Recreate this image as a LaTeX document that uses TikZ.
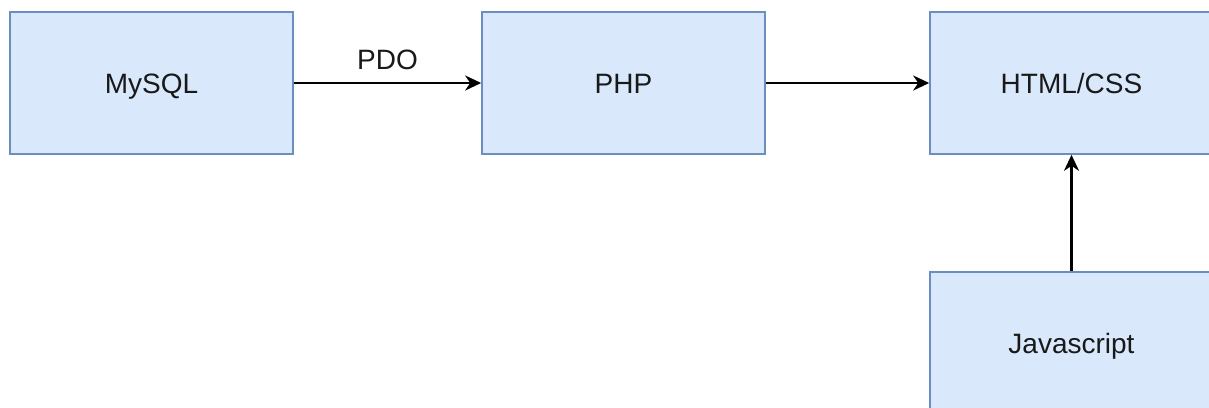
\documentclass[tikz,border=0pt]{standalone}
\usepackage{fontspec}
\setmainfont{Liberation Sans}
\usetikzlibrary{arrows.meta}
\definecolor{boxfill}{HTML}{DAE8FC}
\definecolor{boxline}{HTML}{6C8EBF}
\begin{document}
\begin{tikzpicture}[x=1pt,y=-1pt,
  blockbox/.style={draw=boxline,fill=boxfill,line width=1.6pt,minimum width=283pt,minimum height=142pt,inner sep=0pt,text height=20pt,text depth=0pt,font=\fontsize{28}{34}\selectfont,text=black!90},
  conn/.style={line width=2.4pt,-{Stealth[length=16pt,width=15pt,inset=5pt]}},
  lbl/.style={font=\fontsize{28}{34}\selectfont,text=black!90,text height=20pt,text depth=0pt,inner sep=0pt}]
\clip (0,0) rectangle (1209,407);
\node[blockbox] (mysql) at (151.5,83) {MySQL};
\node[blockbox] (php) at (623.5,83) {PHP};
\node[blockbox] (html) at (1071.5,83) {HTML/CSS};
\node[blockbox] (js) at (1071.5,343) {Javascript};
\draw[conn] (mysql) -- node[lbl,above=12pt] {PDO} (php);
\draw[conn] (php) -- (html);
\draw[conn] (js) -- (html);
\end{tikzpicture}
\end{document}
